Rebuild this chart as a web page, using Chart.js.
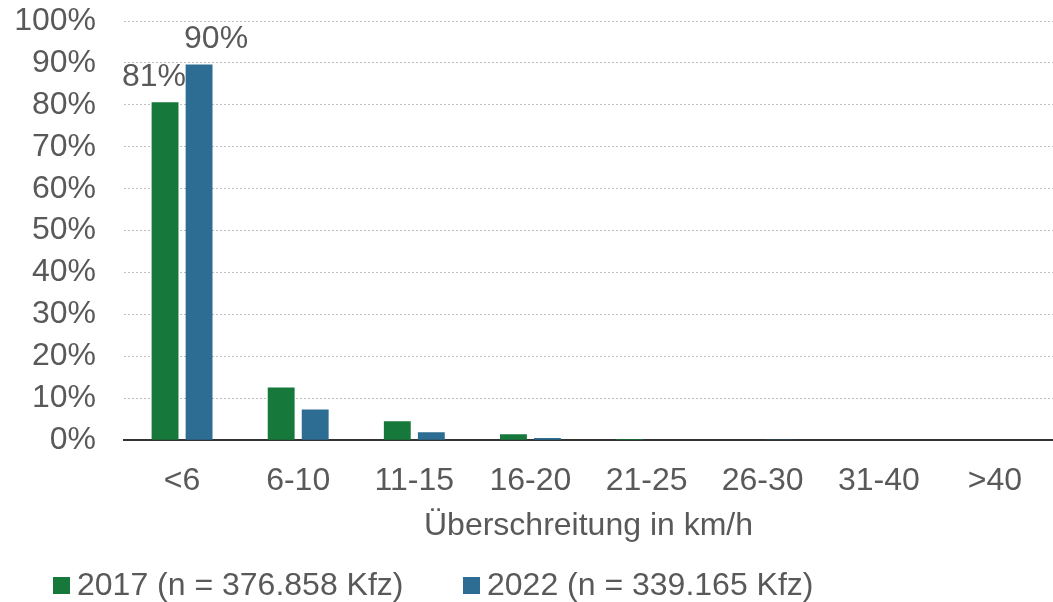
<!DOCTYPE html>
<html>
<head>
<meta charset="utf-8">
<script src="https://cdn.jsdelivr.net/npm/chart.js@4"></script>
<style>
  html, body { margin: 0; padding: 0; background: #fff; }
  #wrap { position: relative; width: 1053px; height: 602px; }
  #legend { position: absolute; left: 53px; top: 565px; font: 32px "Liberation Sans", Arial, sans-serif; color: #595959; white-space: nowrap; }
  #legend span.item { position: absolute; top: 0; line-height: 38px; }
  #legend i { display: inline-block; width: 17px; height: 17px; margin-right: 7px; vertical-align: 1px; }
</style>
</head>
<body>
<div id="wrap">
  <canvas id="chart" width="1053" height="602"></canvas>
  <div id="legend"></div>
</div>
<script>
const categories = ['<6', '6-10', '11-15', '16-20', '21-25', '26-30', '31-40', '>40'];
const values2017 = [80.6, 12.6, 4.5, 1.4, 0.3, 0.1, 0, 0];
const values2022 = [89.6, 7.3, 1.9, 0.5, 0.1, 0.05, 0, 0];
const valueLabels2017 = ['81%', null, null, null, null, null, null, null];
const valueLabels2022 = ['90%', null, null, null, null, null, null, null];
const seriesNames = ['2017 (n = 376.858 Kfz)', '2022 (n = 339.165 Kfz)'];
const seriesColors = ['#17783b', '#2e6d93'];
const yTicks = [0, 10, 20, 30, 40, 50, 60, 70, 80, 90, 100];

const FONT = '"Liberation Sans", Arial, sans-serif';
const TEXT = '#595959';
const FS = 32;

// Wertelabels über den Balken (nur erste Kategorie)
const valueLabelPlugin = {
  id: 'valueLabelPlugin',
  afterDatasetsDraw(chart) {
    const ctx = chart.ctx;
    const sets = [valueLabels2017, valueLabels2022];
    const shiftX = [-11, 17];
    ctx.save();
    ctx.font = FS + 'px ' + FONT;
    ctx.fillStyle = TEXT;
    ctx.textAlign = 'center';
    ctx.textBaseline = 'middle';
    sets.forEach((labels, di) => {
      const meta = chart.getDatasetMeta(di);
      labels.forEach((txt, i) => {
        if (!txt) return;
        const bar = meta.data[i];
        ctx.fillText(txt, bar.x + shiftX[di], bar.y - 25);
      });
    });
    ctx.restore();
  }
};

function noScalePadding(scale) {
  scale.paddingTop = 0;
  scale.paddingBottom = 0;
  scale.paddingLeft = 0;
  scale.paddingRight = 0;
}

const ctx = document.getElementById('chart').getContext('2d');
const chart = new Chart(ctx, {
  type: 'bar',
  data: {
    labels: categories,
    datasets: [
      { label: seriesNames[0], data: values2017, backgroundColor: seriesColors[0] },
      { label: seriesNames[1], data: values2022, backgroundColor: seriesColors[1] }
    ]
  },
  options: {
    responsive: false,
    animation: false,
    categoryPercentage: 0.586,
    barPercentage: 0.79,
    layout: { padding: { top: 21, right: 0, bottom: 57, left: 0 } },
    plugins: {
      legend: { display: false },
      tooltip: { enabled: false }
    },
    scales: {
      x: {
        afterFit: noScalePadding,
        grid: { display: false },
        border: { display: true, color: '#333', width: 2 },
        ticks: { color: TEXT, font: { family: FONT, size: FS }, padding: 14, maxRotation: 0, autoSkip: false },
        title: { display: true, text: 'Überschreitung in km/h', color: TEXT, font: { family: FONT, size: FS }, padding: { top: -8, bottom: 0 } }
      },
      y: {
        min: 0,
        max: 100,
        afterBuildTicks(scale) { scale.ticks = yTicks.map(v => ({ value: v })); },
        afterFit(scale) { scale.width = 124; noScalePadding(scale); },
        grid: { color: '#bfbfbf', lineWidth: 1, drawTicks: false },
        border: { display: false, dash: [2, 2] },
        ticks: { color: TEXT, font: { family: FONT, size: FS }, padding: 28, autoSkip: false, callback: v => v + '%' }
      }
    }
  },
  plugins: [valueLabelPlugin]
});

// Legende
const legend = document.getElementById('legend');
const itemLeft = [0, 410];
seriesNames.forEach((name, i) => {
  const s = document.createElement('span');
  s.className = 'item';
  s.style.left = itemLeft[i] + 'px';
  s.innerHTML = '<i style="background:' + seriesColors[i] + '"></i>' + name;
  legend.appendChild(s);
});
</script>
</body>
</html>
